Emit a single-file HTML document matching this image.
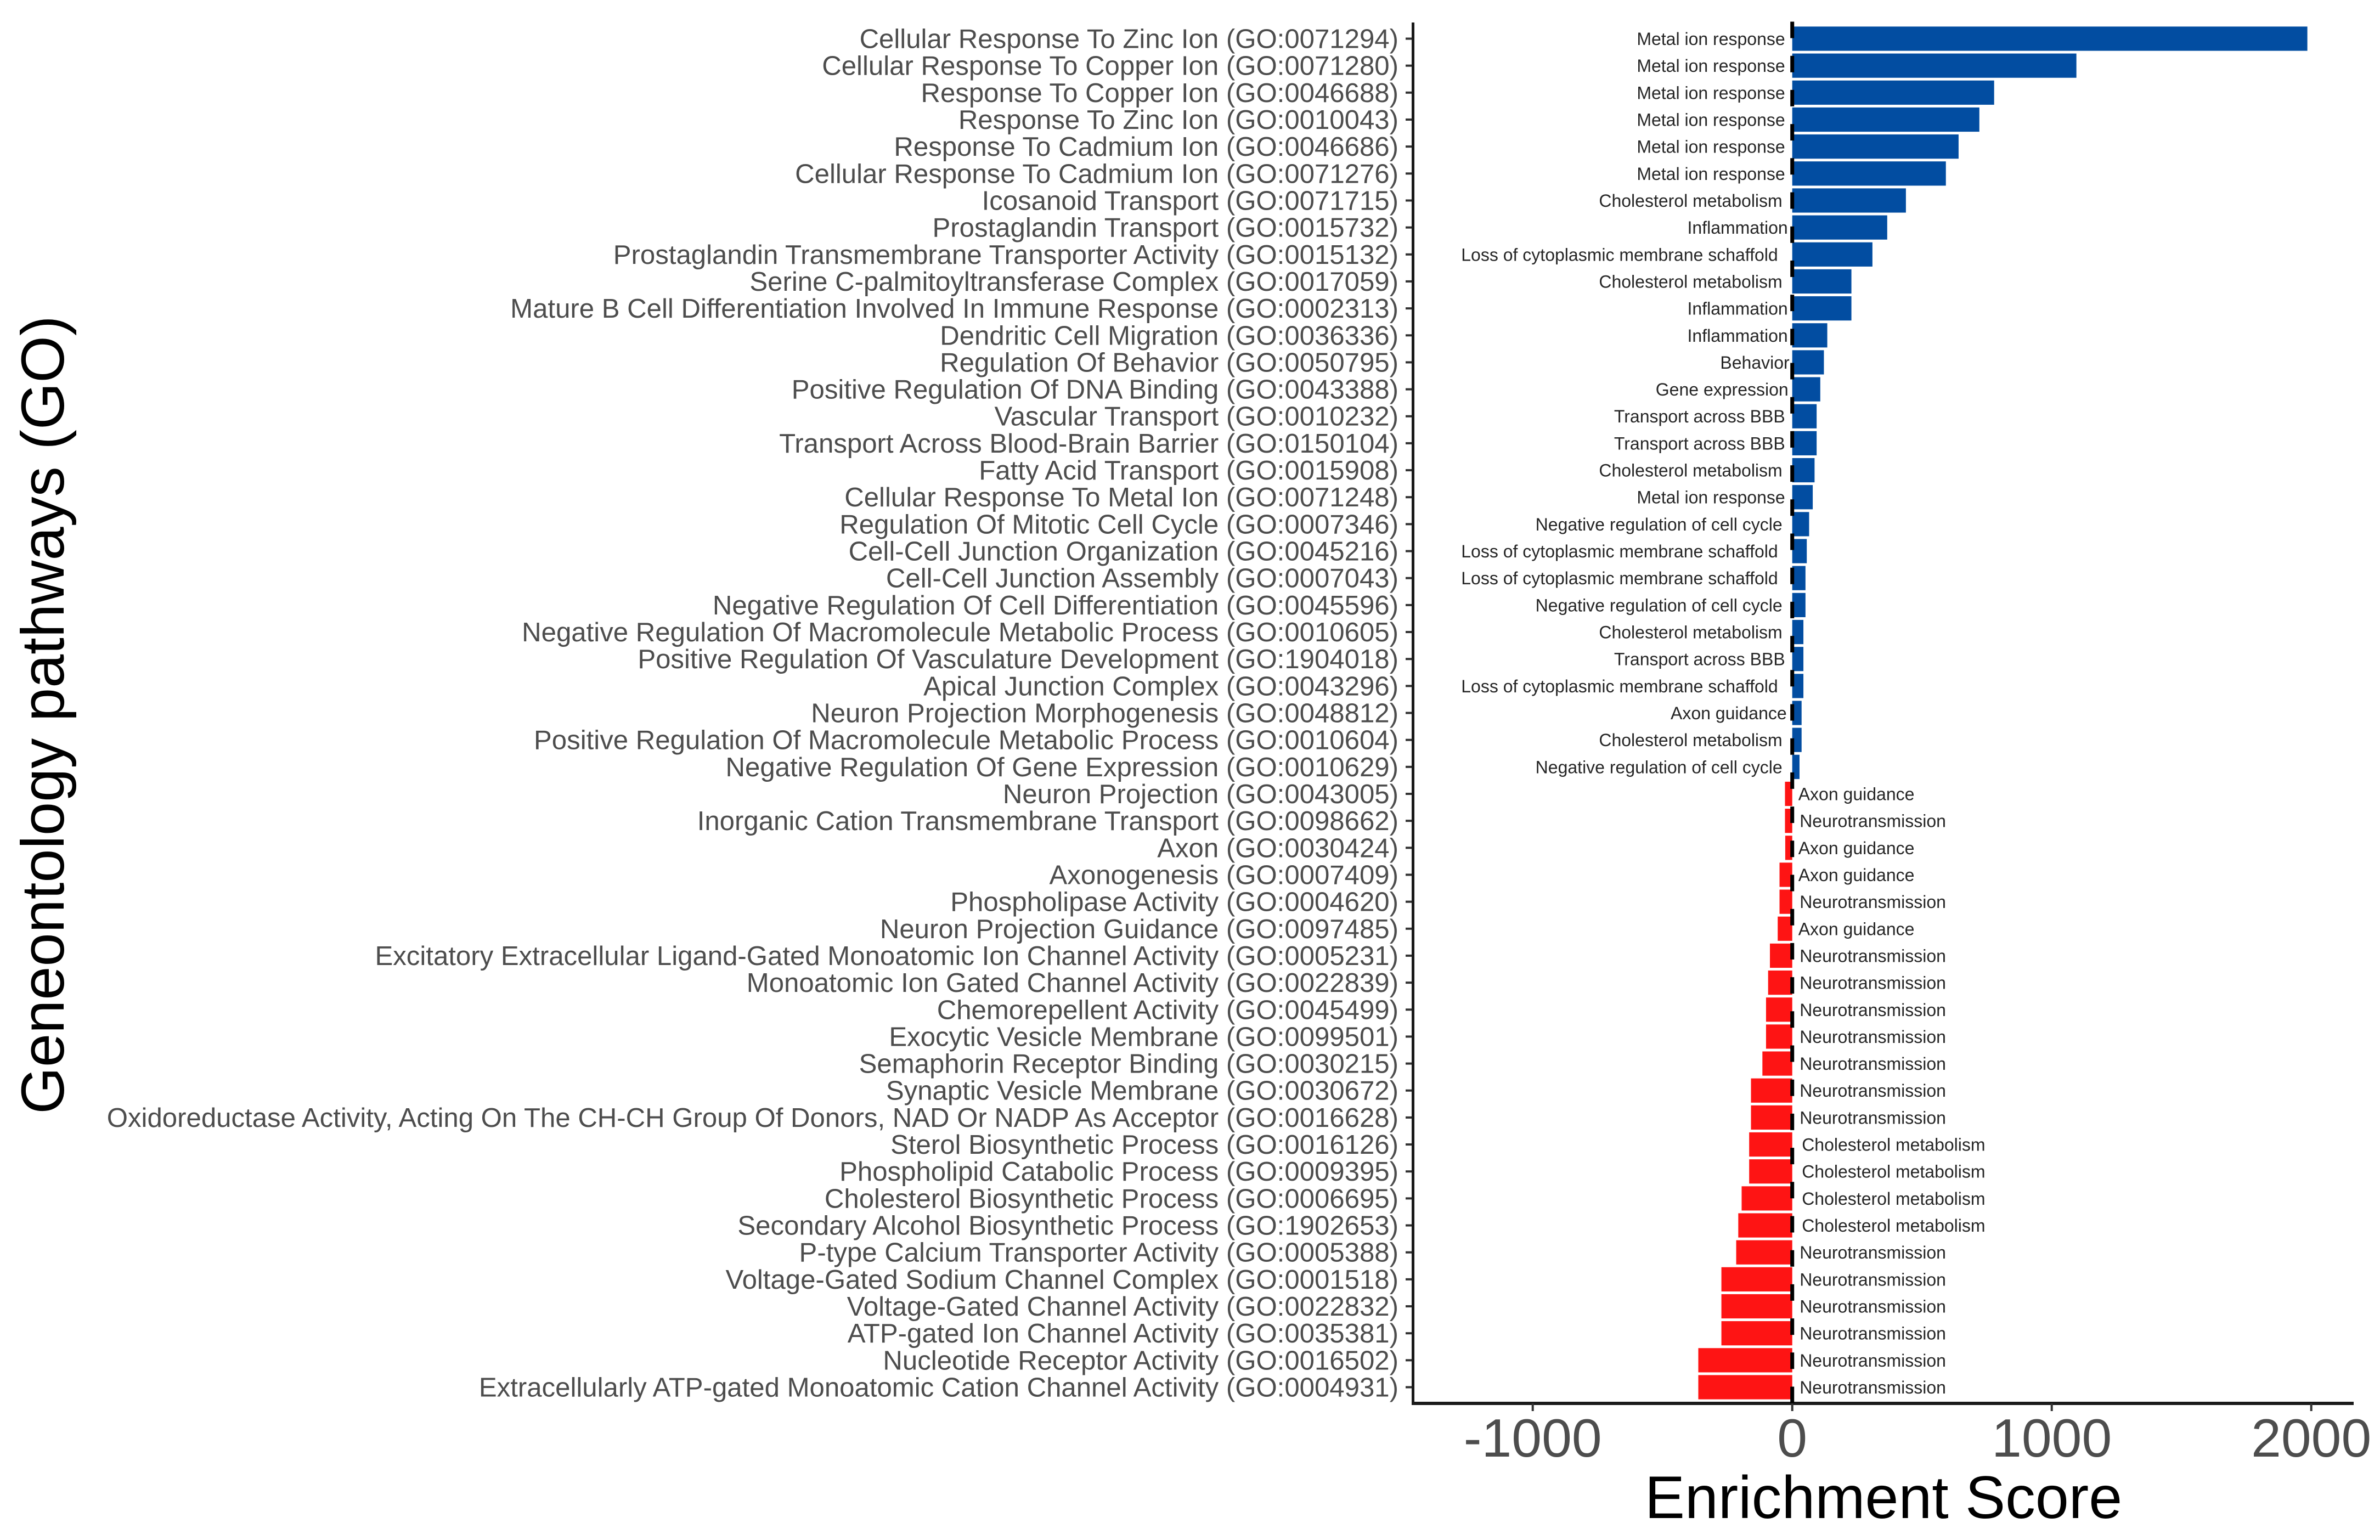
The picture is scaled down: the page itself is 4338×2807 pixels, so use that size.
<!DOCTYPE html>
<html lang="en">
<head>
<meta charset="utf-8">
<title>Enrichment Score by Geneontology pathway</title>
<style>
  html, body { margin: 0; padding: 0; background: #ffffff; }
  svg { display: block; font-family: "Liberation Sans", Arial, sans-serif; }
</style>
</head>
<body>
<svg id="chart" xmlns="http://www.w3.org/2000/svg" width="4338" height="2807" viewBox="0 0 4338 2807">
  <rect x="0" y="0" width="4338" height="2807" fill="#ffffff"/>
  <g id="bars"></g>
  <g id="annotations"></g>
  <g id="y-axis"></g>
  <g id="x-axis"></g>
  <text transform="translate(116,1303) rotate(-90)" text-anchor="middle" font-size="110" fill="#000000">Geneontology pathways (GO)</text>
  <text x="3433" y="2767" text-anchor="middle" font-size="109.5" fill="#000000">Enrichment Score</text>
</svg>
<script>
const pathways = [
  "Cellular Response To Zinc Ion (GO:0071294)",
  "Cellular Response To Copper Ion (GO:0071280)",
  "Response To Copper Ion (GO:0046688)",
  "Response To Zinc Ion (GO:0010043)",
  "Response To Cadmium Ion (GO:0046686)",
  "Cellular Response To Cadmium Ion (GO:0071276)",
  "Icosanoid Transport (GO:0071715)",
  "Prostaglandin Transport (GO:0015732)",
  "Prostaglandin Transmembrane Transporter Activity (GO:0015132)",
  "Serine C-palmitoyltransferase Complex (GO:0017059)",
  "Mature B Cell Differentiation Involved In Immune Response (GO:0002313)",
  "Dendritic Cell Migration (GO:0036336)",
  "Regulation Of Behavior (GO:0050795)",
  "Positive Regulation Of DNA Binding (GO:0043388)",
  "Vascular Transport (GO:0010232)",
  "Transport Across Blood-Brain Barrier (GO:0150104)",
  "Fatty Acid Transport (GO:0015908)",
  "Cellular Response To Metal Ion (GO:0071248)",
  "Regulation Of Mitotic Cell Cycle (GO:0007346)",
  "Cell-Cell Junction Organization (GO:0045216)",
  "Cell-Cell Junction Assembly (GO:0007043)",
  "Negative Regulation Of Cell Differentiation (GO:0045596)",
  "Negative Regulation Of Macromolecule Metabolic Process (GO:0010605)",
  "Positive Regulation Of Vasculature Development (GO:1904018)",
  "Apical Junction Complex (GO:0043296)",
  "Neuron Projection Morphogenesis (GO:0048812)",
  "Positive Regulation Of Macromolecule Metabolic Process (GO:0010604)",
  "Negative Regulation Of Gene Expression (GO:0010629)",
  "Neuron Projection (GO:0043005)",
  "Inorganic Cation Transmembrane Transport (GO:0098662)",
  "Axon (GO:0030424)",
  "Axonogenesis (GO:0007409)",
  "Phospholipase Activity (GO:0004620)",
  "Neuron Projection Guidance (GO:0097485)",
  "Excitatory Extracellular Ligand-Gated Monoatomic Ion Channel Activity (GO:0005231)",
  "Monoatomic Ion Gated Channel Activity (GO:0022839)",
  "Chemorepellent Activity (GO:0045499)",
  "Exocytic Vesicle Membrane (GO:0099501)",
  "Semaphorin Receptor Binding (GO:0030215)",
  "Synaptic Vesicle Membrane (GO:0030672)",
  "Oxidoreductase Activity, Acting On The CH-CH Group Of Donors, NAD Or NADP As Acceptor (GO:0016628)",
  "Sterol Biosynthetic Process (GO:0016126)",
  "Phospholipid Catabolic Process (GO:0009395)",
  "Cholesterol Biosynthetic Process (GO:0006695)",
  "Secondary Alcohol Biosynthetic Process (GO:1902653)",
  "P-type Calcium Transporter Activity (GO:0005388)",
  "Voltage-Gated Sodium Channel Complex (GO:0001518)",
  "Voltage-Gated Channel Activity (GO:0022832)",
  "ATP-gated Ion Channel Activity (GO:0035381)",
  "Nucleotide Receptor Activity (GO:0016502)",
  "Extracellularly ATP-gated Monoatomic Cation Channel Activity (GO:0004931)"
];
const scores = [
  1985, 1095, 778, 721, 641, 592, 438, 366, 309, 228, 228, 135, 122, 108, 94, 94, 86, 79, 65, 56,
  51, 51, 43, 43, 43, 36, 36, 28,
  -28, -28, -27, -49, -49, -56, -86, -93, -101, -101, -115, -159, -159, -166, -166, -195, -208,
  -216, -273, -273, -273, -362, -362
];
const themes = [
  "Metal ion response", "Metal ion response", "Metal ion response", "Metal ion response",
  "Metal ion response", "Metal ion response", "Cholesterol metabolism", "Inflammation",
  "Loss of cytoplasmic membrane schaffold", "Cholesterol metabolism", "Inflammation", "Inflammation",
  "Behavior", "Gene expression", "Transport across BBB", "Transport across BBB",
  "Cholesterol metabolism", "Metal ion response", "Negative regulation of cell cycle",
  "Loss of cytoplasmic membrane schaffold", "Loss of cytoplasmic membrane schaffold",
  "Negative regulation of cell cycle", "Cholesterol metabolism", "Transport across BBB",
  "Loss of cytoplasmic membrane schaffold", "Axon guidance", "Cholesterol metabolism",
  "Negative regulation of cell cycle",
  "Axon guidance", "Neurotransmission", "Axon guidance", "Axon guidance", "Neurotransmission",
  "Axon guidance", "Neurotransmission", "Neurotransmission", "Neurotransmission", "Neurotransmission",
  "Neurotransmission", "Neurotransmission", "Neurotransmission", "Cholesterol metabolism",
  "Cholesterol metabolism", "Cholesterol metabolism", "Cholesterol metabolism", "Neurotransmission",
  "Neurotransmission", "Neurotransmission", "Neurotransmission", "Neurotransmission", "Neurotransmission"
];
const xTicks = [-1000, 0, 1000, 2000];

const SVG_NS = "http://www.w3.org/2000/svg";
const xScale = function (v) { return 3266.7 + v * 0.473; };
const yScale = function (i) { return 70.5 + i * 49.16; };
const BAR_HEIGHT = 44.2;
const AXIS_LEFT = 2575.5;
const AXIS_RIGHT = 4290;
const AXIS_TOP = 41;
const AXIS_BOTTOM = 2558;

const negativeGap = function (theme) {
  if (theme === "Axon guidance") return 11;
  if (theme === "Cholesterol metabolism") return 17.5;
  return 13.5;
};
const positiveGap = function (theme) {
  if (theme === "Metal ion response" || theme === "Transport across BBB") return 13;
  if (theme === "Cholesterol metabolism" || theme === "Negative regulation of cell cycle") return 18;
  if (theme === "Inflammation") return 8;
  if (theme === "Gene expression") return 7;
  if (theme === "Behavior") return 5;
  if (theme === "Axon guidance") return 10;
  return 26;
};

const barLayer = document.getElementById("bars");
const annotationLayer = document.getElementById("annotations");
const yAxis = document.getElementById("y-axis");
const xAxis = document.getElementById("x-axis");

scores.forEach(function (value, i) {
  const bar = document.createElementNS(SVG_NS, "rect");
  
  
  const x0 = xScale(Math.min(0, value));
  const x1 = xScale(Math.max(0, value));
  bar.setAttribute("x", x0);
  bar.setAttribute("y", yScale(i) - BAR_HEIGHT / 2);
  bar.setAttribute("width", x1 - x0);
  bar.setAttribute("height", BAR_HEIGHT);
  bar.setAttribute("fill", value >= 0 ? "#024da1" : "#fe1414");
  barLayer.appendChild(bar);

  const note = document.createElementNS(SVG_NS, "text");
  
  
  note.setAttribute("y", yScale(i) + 11.5);
  note.setAttribute("font-size", "32");
  note.setAttribute("fill", "#262626");
  if (value >= 0) {
    note.setAttribute("x", xScale(0) - positiveGap(themes[i]));
    note.setAttribute("text-anchor", "end");
  } else {
    note.setAttribute("x", xScale(0) + negativeGap(themes[i]));
    note.setAttribute("text-anchor", "start");
  }
  note.textContent = themes[i];
  annotationLayer.appendChild(note);

  const label = document.createElementNS(SVG_NS, "text");
  
  
  label.setAttribute("x", 2549);
  label.setAttribute("y", yScale(i) + 17);
  label.setAttribute("text-anchor", "end");
  label.setAttribute("font-size", "49.15");
  label.setAttribute("fill", "#4d4d4d");
  label.textContent = pathways[i];
  yAxis.appendChild(label);

  const tick = document.createElementNS(SVG_NS, "line");
  
  
  tick.setAttribute("x1", 2562);
  tick.setAttribute("x2", AXIS_LEFT);
  tick.setAttribute("y1", yScale(i));
  tick.setAttribute("y2", yScale(i));
  tick.setAttribute("stroke", "#333333");
  tick.setAttribute("stroke-width", "4");
  yAxis.appendChild(tick);
});

const zeroLine = document.createElementNS(SVG_NS, "line");


zeroLine.setAttribute("x1", xScale(0));
zeroLine.setAttribute("x2", xScale(0));
zeroLine.setAttribute("y1", AXIS_BOTTOM);
zeroLine.setAttribute("y2", 38);
zeroLine.setAttribute("stroke", "#000000");
zeroLine.setAttribute("stroke-width", "7");
zeroLine.setAttribute("stroke-dasharray", "30 32.2");
zeroLine.setAttribute("stroke-dashoffset", "-0.5");
document.getElementById("chart").appendChild(zeroLine);

const yLine = document.createElementNS(SVG_NS, "line");


yLine.setAttribute("x1", AXIS_LEFT);
yLine.setAttribute("x2", AXIS_LEFT);
yLine.setAttribute("y1", AXIS_TOP);
yLine.setAttribute("y2", AXIS_BOTTOM + 3);
yLine.setAttribute("stroke", "#1a1a1a");
yLine.setAttribute("stroke-width", "5");
yAxis.appendChild(yLine);

const xLine = document.createElementNS(SVG_NS, "line");


xLine.setAttribute("x1", AXIS_LEFT - 2.5);
xLine.setAttribute("x2", AXIS_RIGHT);
xLine.setAttribute("y1", AXIS_BOTTOM);
xLine.setAttribute("y2", AXIS_BOTTOM);
xLine.setAttribute("stroke", "#1a1a1a");
xLine.setAttribute("stroke-width", "6");
xAxis.appendChild(xLine);

xTicks.forEach(function (value) {
  const tick = document.createElementNS(SVG_NS, "line");
  
  
  tick.setAttribute("x1", xScale(value));
  tick.setAttribute("x2", xScale(value));
  tick.setAttribute("y1", AXIS_BOTTOM);
  tick.setAttribute("y2", AXIS_BOTTOM + 14);
  tick.setAttribute("stroke", "#333333");
  tick.setAttribute("stroke-width", "4");
  xAxis.appendChild(tick);

  const label = document.createElementNS(SVG_NS, "text");
  
  
  label.setAttribute("x", xScale(value));
  label.setAttribute("y", 2655);
  label.setAttribute("text-anchor", "middle");
  label.setAttribute("font-size", "98.5");
  label.setAttribute("fill", "#4d4d4d");
  label.textContent = String(value);
  xAxis.appendChild(label);
});
</script>
</body>
</html>
